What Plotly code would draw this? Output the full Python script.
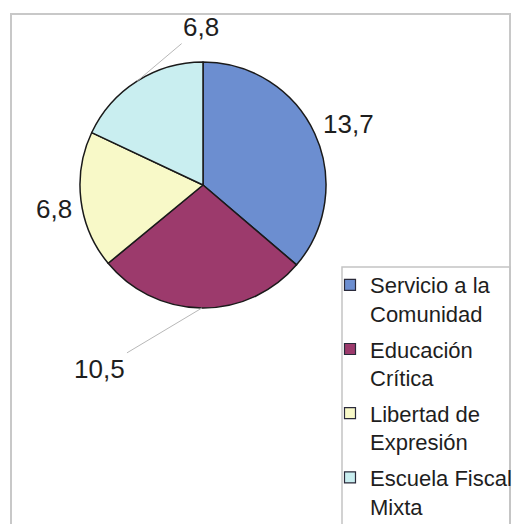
import math
import plotly.graph_objects as go

# Data
categories = [
    "Servicio a la<br>Comunidad",
    "Educación<br>Crítica",
    "Libertad de<br>Expresión",
    "Escuela Fiscal<br>Mixta",
]
values = [13.7, 10.5, 6.8, 6.8]
slice_colors = ["#6C8ED0", "#9C3A6C", "#F8F9C8", "#C9EEF0"]

# Canvas and pie geometry (pixels)
W, H = 512, 524
CX, CY, R = 203, 185, 123

# Label placement relative to each slice's outer edge (pixels), and leader visibility
label_offsets = [(34, -9), (-102, 61), (-27, 9), (64, -54)]
show_leader = [False, True, False, True]

FONT = "Liberation Sans, Arial, sans-serif"


def fmt(v):
    return f"{v:.1f}".replace(".", ",")


fig = go.Figure()
fig.add_trace(
    go.Pie(
        labels=categories,
        values=values,
        sort=False,
        direction="clockwise",
        rotation=0,
        textinfo="none",
        hoverinfo="label+value",
        showlegend=False,
        marker=dict(colors=slice_colors, line=dict(color="#1a1a1a", width=1.5)),
        domain=dict(
            x=[(CX - R) / W, (CX + R) / W],
            y=[1 - (CY + R) / H, 1 - (CY - R) / H],
        ),
    )
)

# Legend entries, one group per category so the entries can be spaced apart
for name, color in zip(categories, slice_colors):
    fig.add_trace(
        go.Scatter(
            x=[None],
            y=[None],
            mode="markers",
            name=name,
            legendgroup=name,
            marker=dict(symbol="square", size=11, color=color,
                        line=dict(color="#2a2a3a", width=1.2)),
            hoverinfo="skip",
        )
    )

# Value labels at each slice's mid angle
total = sum(values)
cum = 0.0
annotations = []
for v, (dx, dy), leader in zip(values, label_offsets, show_leader):
    mid = (cum + v / 2) / total * 2 * math.pi
    cum += v
    px = CX + R * math.sin(mid)
    py = CY - R * math.cos(mid)
    common = dict(
        x=px / W,
        y=1 - py / H,
        xref="paper",
        yref="paper",
        text=fmt(v),
        font=dict(family=FONT, size=26, color="#1e1e1e"),
    )
    if leader:
        annotations.append(
            dict(**common, showarrow=True, arrowhead=0, arrowwidth=1,
                 arrowcolor="#b8b8b8", ax=dx, ay=dy)
        )
    else:
        annotations.append(
            dict(**common, showarrow=False, xanchor="center", yanchor="middle",
                 xshift=dx, yshift=-dy)
        )

shapes = [
    # chart frame
    dict(
        type="rect", xref="paper", yref="paper",
        x0=11 / W, x1=510 / W, y0=-0.1, y1=1 - 14 / H,
        line=dict(color="#c8c8c8", width=2), fillcolor="rgba(0,0,0,0)", layer="below",
    ),
    # legend box
    dict(
        type="rect", xref="paper", yref="paper",
        x0=342 / W, x1=510 / W, y0=-0.1, y1=1 - 267 / H,
        line=dict(color="#c4c4c4", width=1.5), fillcolor="rgba(0,0,0,0)", layer="below",
    ),
]

fig.update_layout(
    width=W,
    height=H,
    margin=dict(l=0, r=0, t=0, b=0, autoexpand=False),
    paper_bgcolor="white",
    plot_bgcolor="white",
    xaxis=dict(visible=False),
    yaxis=dict(visible=False),
    showlegend=True,
    legend=dict(
        x=330 / W,
        xanchor="left",
        y=1 - 264 / H,
        yanchor="top",
        valign="top",
        bgcolor="rgba(0,0,0,0)",
        borderwidth=0,
        traceorder="grouped",
        tracegroupgap=4,
        font=dict(family=FONT, size=22, color="#1e1e1e"),
    ),
    annotations=annotations,
    shapes=shapes,
)

fig.write_html("out.html")
